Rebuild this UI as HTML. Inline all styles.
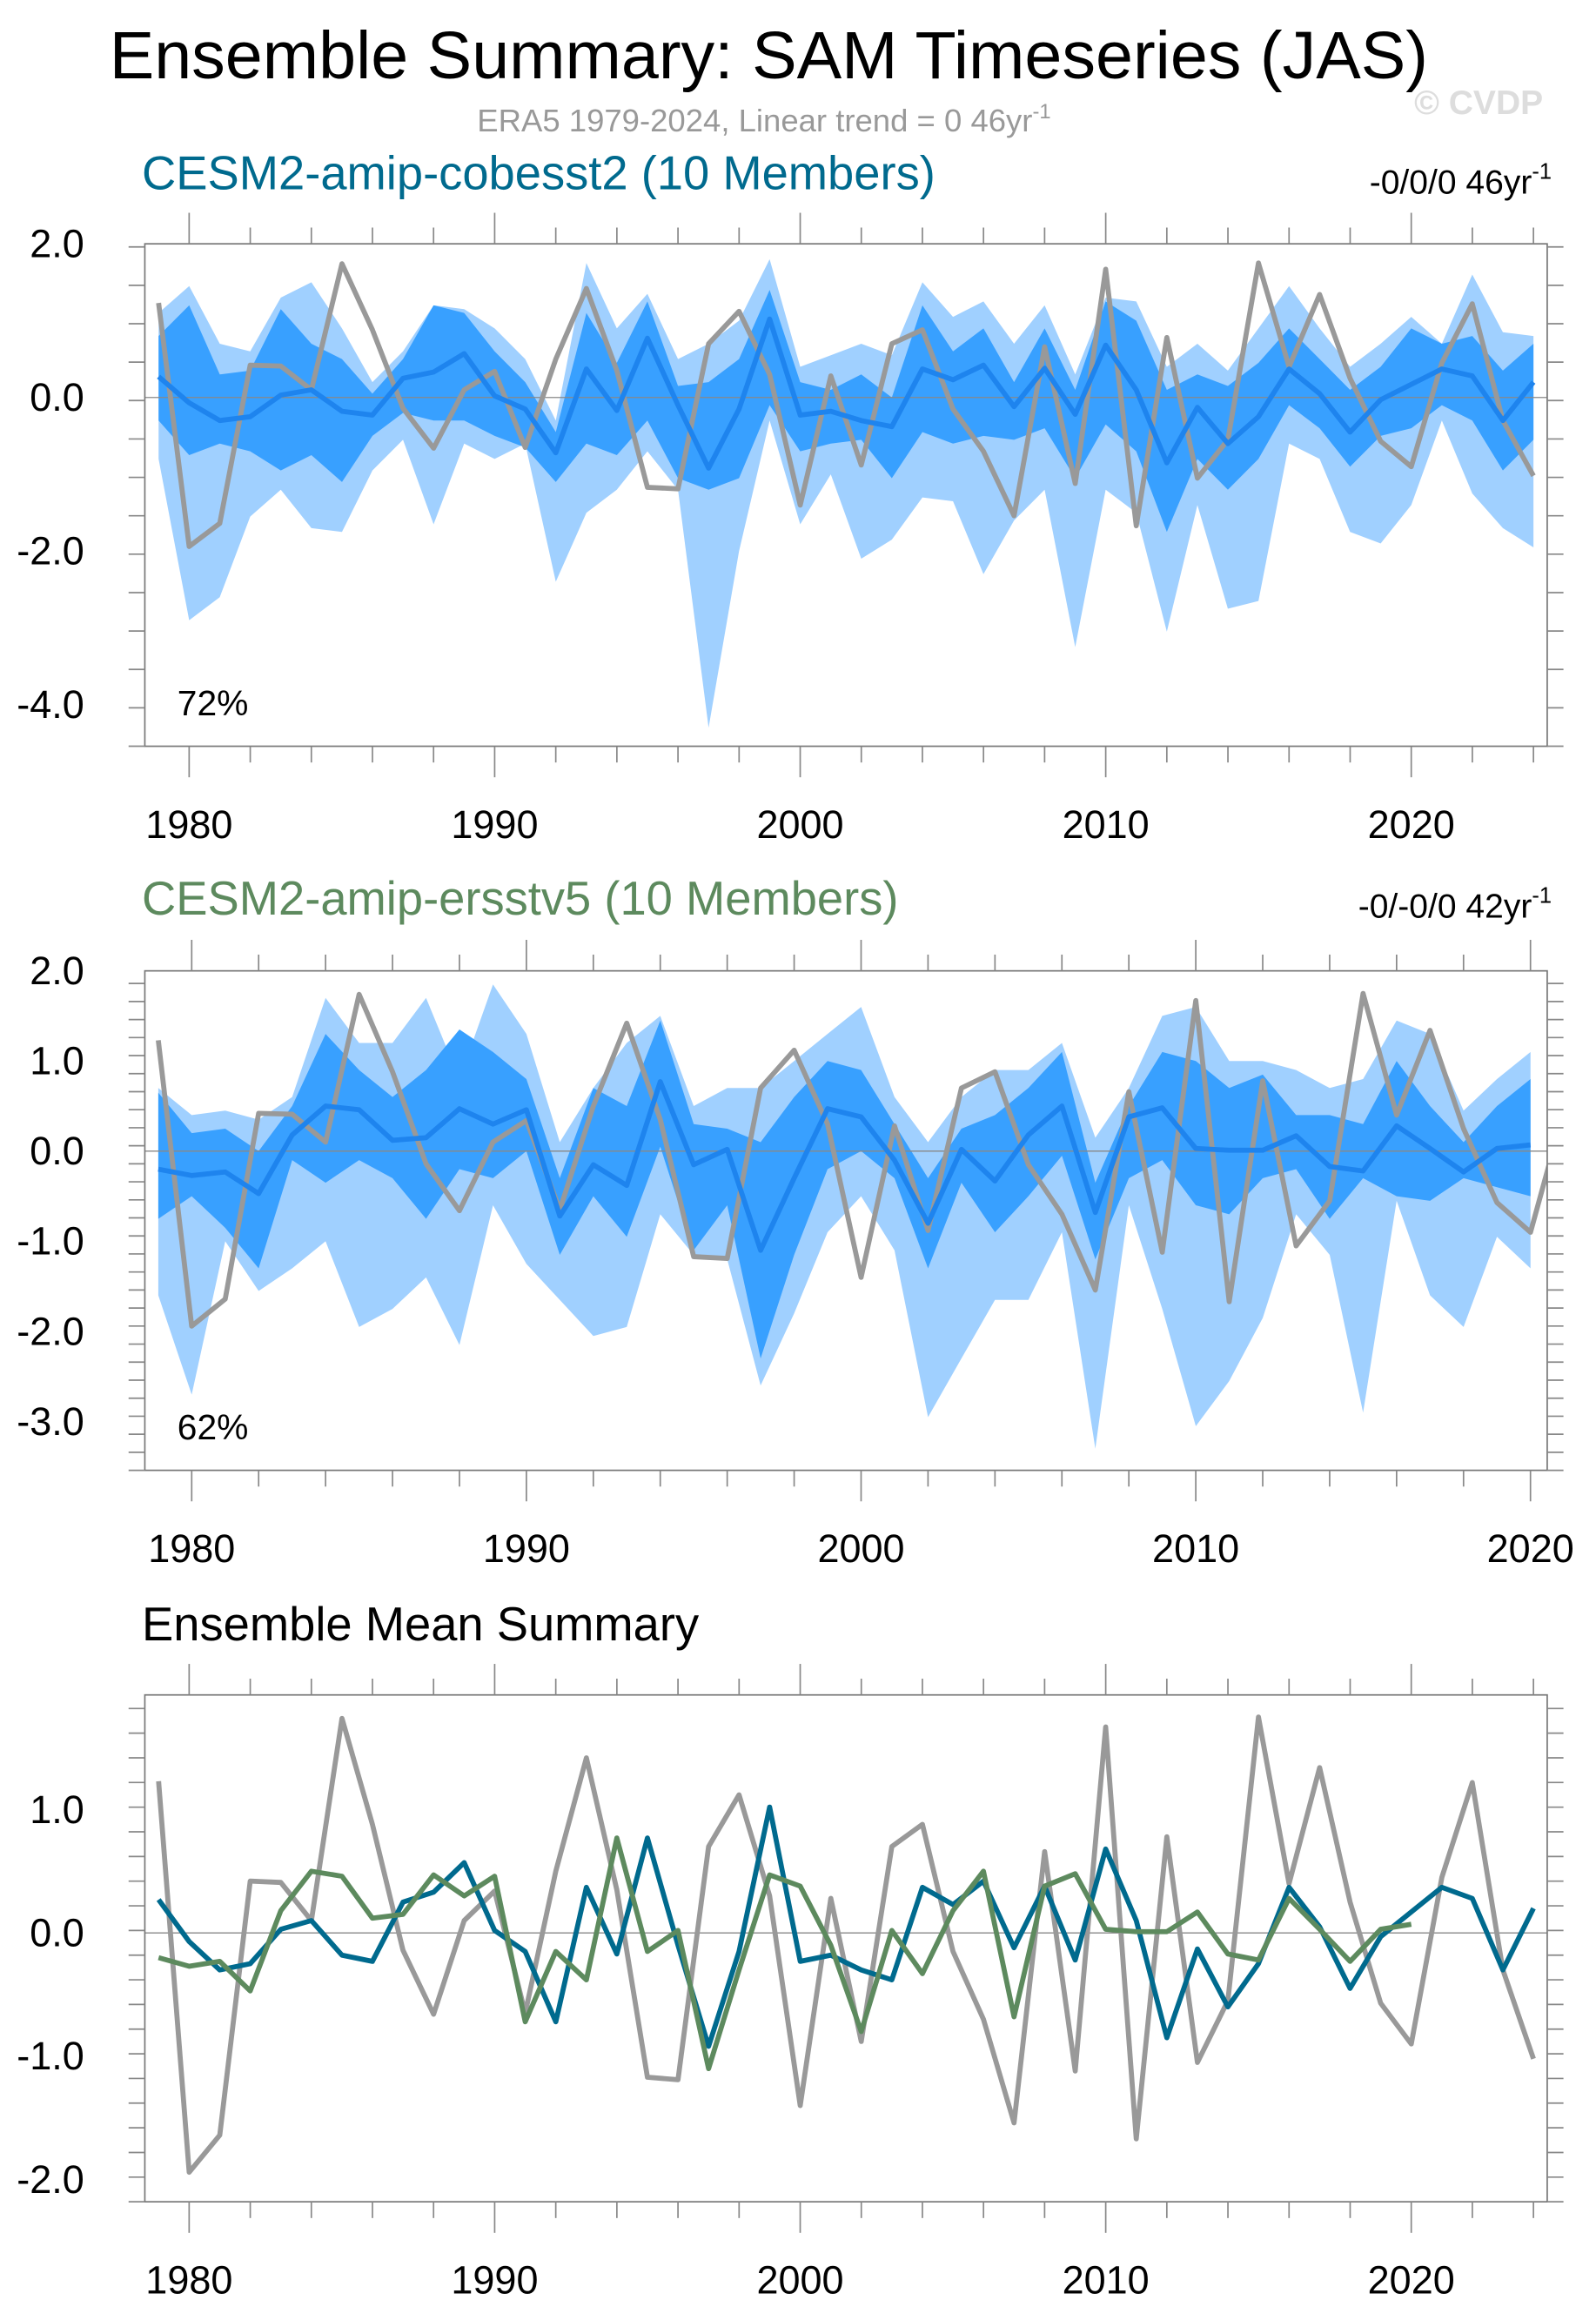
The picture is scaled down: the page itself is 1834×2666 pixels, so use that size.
<!DOCTYPE html>
<html><head><meta charset="utf-8"><title>Ensemble Summary: SAM Timeseries (JAS)</title>
<style>html,body{margin:0;padding:0;background:#fff}svg{display:block}text{font-family:"Liberation Sans",sans-serif}</style></head>
<body>
<svg id="chart" xmlns="http://www.w3.org/2000/svg" width="1834" height="2666" viewBox="0 0 1080 1570">
<rect width="1080" height="1570" fill="#fff"/>
<text x="74" y="53" font-size="45.5">Ensemble Summary: SAM Timeseries (JAS)</text>
<text x="517" y="89" font-size="21.5" fill="#999" text-anchor="middle">ERA5 1979-2024, Linear trend = 0 46yr<tspan font-size="14" dy="-9">-1</tspan></text>
<text x="957" y="77" font-size="23" font-weight="bold" fill="#ddd">© CVDP</text>
<text x="96" y="128" font-size="32" fill="#006a8e">CESM2-amip-cobesst2 (10 Members)</text>
<text x="1050" y="131" font-size="23" text-anchor="end">-0/0/0 46yr<tspan font-size="15" dy="-10">-1</tspan></text>
<text x="96" y="619" font-size="32" fill="#5d8a5e">CESM2-amip-ersstv5 (10 Members)</text>
<text x="1050" y="621" font-size="23" text-anchor="end">-0/-0/0 42yr<tspan font-size="15" dy="-10">-1</tspan></text>
<text x="96" y="1110" font-size="32">Ensemble Mean Summary</text>
<g id="p1"></g><g id="p2"></g><g id="p3"></g>
</svg>
<script>
const years = Array.from({length:46},(_,i)=>1979+i);
const obs = [1.23,-1.94,-1.64,0.42,0.41,0.1,1.74,0.88,-0.14,-0.66,0.1,0.34,-0.65,0.5,1.42,0.35,-1.17,-1.19,0.7,1.12,0.3,-1.4,0.28,-0.88,0.7,0.88,-0.15,-0.7,-1.54,0.66,-1.12,1.67,-1.67,0.78,-1.05,-0.55,1.75,0.4,1.34,0.25,-0.57,-0.9,0.45,1.22,-0.3,-1.02];
const cobeMean = [0.27,-0.07,-0.3,-0.25,0.03,0.1,-0.18,-0.23,0.25,0.33,0.57,0.02,-0.15,-0.72,0.37,-0.17,0.77,-0.1,-0.92,-0.15,1.02,-0.23,-0.18,-0.3,-0.38,0.37,0.23,0.42,-0.12,0.38,-0.22,0.68,0.1,-0.85,-0.13,-0.6,-0.25,0.37,0.05,-0.45,-0.03,0.17,0.37,0.28,-0.3,0.2];
const cobeMax = [1.1,1.45,0.7,0.6,1.3,1.5,0.9,0.2,0.6,1.2,1.15,0.9,0.5,-0.3,1.75,0.9,1.35,0.5,0.7,1.0,1.8,0.4,0.55,0.7,0.55,1.5,1.05,1.25,0.7,1.2,0.3,1.3,1.25,0.4,0.7,0.35,0.9,1.45,0.9,0.4,0.7,1.05,0.7,1.6,0.85,0.8];
const cobeMin = [-0.8,-2.9,-2.6,-1.55,-1.2,-1.7,-1.75,-0.95,-0.55,-1.65,-0.6,-0.8,-0.6,-2.4,-1.5,-1.2,-0.7,-1.2,-4.3,-2.0,-0.3,-1.65,-1.0,-2.1,-1.85,-1.3,-1.35,-2.3,-1.6,-1.2,-3.25,-1.2,-1.5,-3.05,-1.4,-2.75,-2.65,-0.6,-0.8,-1.75,-1.9,-1.4,-0.3,-1.25,-1.7,-1.95];
const cobeHi = [0.8,1.2,0.3,0.35,1.15,0.7,0.5,0.05,0.5,1.2,1.1,0.6,0.2,-0.45,1.1,0.45,1.25,0.15,0.2,0.5,1.4,0.2,0.1,0.3,0.0,1.2,0.6,0.9,0.2,0.9,0.1,1.25,1.0,0.1,0.3,0.15,0.45,0.9,0.5,0.1,0.4,0.9,0.7,0.8,0.35,0.7];
const cobeLo = [-0.3,-0.75,-0.6,-0.7,-0.95,-0.75,-1.1,-0.5,-0.2,-0.3,-0.3,-0.5,-0.65,-1.1,-0.6,-0.75,-0.3,-1.05,-1.2,-1.05,-0.1,-0.7,-0.6,-0.55,-1.05,-0.45,-0.6,-0.5,-0.55,-0.4,-1.05,-0.35,-0.7,-1.75,-0.8,-1.2,-0.8,-0.1,-0.4,-0.9,-0.5,-0.4,-0.1,-0.3,-0.95,-0.55];
const ersstYears = Array.from({length:42},(_,i)=>1979+i);
const ersstMean = [-0.2,-0.27,-0.23,-0.47,0.18,0.5,0.46,0.12,0.15,0.47,0.3,0.46,-0.72,-0.15,-0.38,0.77,-0.15,0.02,-1.1,-0.3,0.47,0.38,-0.1,-0.8,0.02,-0.33,0.18,0.5,-0.68,0.38,0.48,0.03,0.01,0.01,0.17,-0.17,-0.22,0.28,0.03,-0.23,0.03,0.07];
const ersstMax = [0.7,0.4,0.45,0.35,0.6,1.7,1.2,1.2,1.7,0.8,1.85,1.3,0.1,0.7,1.2,1.5,0.5,0.7,0.7,1.0,1.3,1.6,0.6,0.1,0.6,0.9,0.9,1.2,0.15,0.7,1.5,1.6,1.0,1.0,0.9,0.7,0.8,1.45,1.3,0.45,0.8,1.1];
const ersstMin = [-1.6,-2.7,-1.0,-1.55,-1.3,-1.0,-1.95,-1.75,-1.4,-2.15,-0.6,-1.25,-1.65,-2.05,-1.95,-0.7,-1.15,-1.2,-2.6,-1.8,-0.9,-0.5,-1.1,-2.95,-2.3,-1.65,-1.65,-0.9,-3.3,-0.6,-1.75,-3.05,-2.55,-1.85,-0.7,-1.15,-2.9,-0.55,-1.6,-1.95,-0.95,-1.3];
const ersstHi = [0.65,0.2,0.25,0.0,0.5,1.3,0.9,0.6,0.9,1.35,1.1,0.8,-0.3,0.7,0.5,1.45,0.3,0.25,0.1,0.6,1.0,0.9,0.3,-0.3,0.25,0.4,0.7,1.1,-0.35,0.5,1.1,1.0,0.7,0.85,0.4,0.4,0.3,1.0,0.5,0.1,0.5,0.8];
const ersstLo = [-0.75,-0.5,-0.85,-1.3,-0.1,-0.35,-0.1,-0.3,-0.75,-0.2,-0.3,0.0,-1.15,-0.5,-0.95,0.05,-1.1,-0.6,-2.3,-1.15,-0.2,0.0,-0.3,-1.3,-0.35,-0.9,-0.5,-0.05,-1.2,-0.3,-0.1,-0.6,-0.7,-0.3,-0.2,-0.75,-0.3,-0.5,-0.55,-0.3,-0.4,-0.5];
const p1Ticks = [2,0,-2,-4];
const p2Ticks = [2,1,0,-1,-2,-3];
const p3Ticks = [1,0,-1,-2];
const xTickYears = [1980,1990,2000,2010,2020];

const NS="http://www.w3.org/2000/svg";
function mk(parent,tag,attrs){const e=document.createElementNS(NS,tag);for(const k in attrs)e.setAttribute(k,attrs[k]);parent.appendChild(e);return e;}

function panel(gid,cfg){
  const g=document.getElementById(gid);
  const L=98,R=1047,T=cfg.top,B=cfg.bottom;
  const xs=y=>L+(y-cfg.x0)/(cfg.x1-cfg.x0)*(R-L);
  const ys=v=>T+(cfg.y1-v)/(cfg.y1-cfg.y0)*(B-T);
  const cid='clip-'+gid;
  const cp=mk(g,'clipPath',{id:cid});mk(cp,'rect',{x:L,y:T,width:R-L,height:B-T});
  const plot=mk(g,'g',{'clip-path':'url(#'+cid+')'});
  function band(yrs,lo,hi,color,name){
    let d='M'+yrs.map((y,i)=>xs(y).toFixed(1)+','+ys(hi[i]).toFixed(1)).join('L');
    for(let i=yrs.length-1;i>=0;i--)d+='L'+xs(yrs[i]).toFixed(1)+','+ys(lo[i]).toFixed(1);
    const p=mk(plot,'path',{d:d+'Z',fill:color});
    
    
  }
  function line(yrs,vals,color,w,name){
    const p=mk(plot,'polyline',{points:yrs.map((y,i)=>xs(y).toFixed(1)+','+ys(vals[i]).toFixed(1)).join(' '),fill:'none',stroke:color,'stroke-width':w,'stroke-linejoin':'round'});
    
    
  }
  if(cfg.bands){
    band(cfg.years,cfg.min,cfg.max,'#a0d0ff',gid+'-range-band');
    band(cfg.years,cfg.lo,cfg.hi,'#38a0ff',gid+'-iqr-band');
  }
  const zl=mk(plot,'line',{x1:L,x2:R,y1:ys(0),y2:ys(0),stroke:'#888','stroke-width':0.8});
  
  
  cfg.lines.forEach(l=>line(l.years,l.vals,l.color,l.w,l.name));
  mk(g,'rect',{x:L,y:T,width:R-L,height:B-T,fill:'none',stroke:'#777','stroke-width':1});
  for(let v=cfg.y0;v<=cfg.y1+1e-6;v+=cfg.minor){
    const v2=Math.round(v*100)/100;if(v2<cfg.y0-1e-6||v2>cfg.y1+1e-6)continue;
    const major=cfg.ticks.some(t=>Math.abs(t-v2)<1e-6);
    const len=major?21:11;
    mk(g,'line',{x1:L-len,x2:L,y1:ys(v2),y2:ys(v2),stroke:'#888','stroke-width':1});
    mk(g,'line',{x1:R,x2:R+len,y1:ys(v2),y2:ys(v2),stroke:'#888','stroke-width':1});
  }
  cfg.ticks.forEach(t=>{
    const tx=mk(g,'text',{x:57,y:ys(t)+9,'font-size':26.5,'text-anchor':'end'});
    tx.textContent=t.toFixed(1);
    
    
  });
  for(let y=1980;y<=cfg.x1;y+=2){
    const major=y%10===0;const len=major?21:11;
    mk(g,'line',{x1:xs(y),x2:xs(y),y1:B,y2:B+len,stroke:'#888','stroke-width':1});
    mk(g,'line',{x1:xs(y),x2:xs(y),y1:T-len,y2:T,stroke:'#888','stroke-width':1});
  }
  xTickYears.forEach(y=>{
    if(y>cfg.x1)return;
    const tx=mk(g,'text',{x:xs(y),y:B+62,'font-size':26.5,'text-anchor':'middle'});
    tx.textContent=y;
    
    
  });
  if(cfg.pct){
    const tx=mk(g,'text',{x:120,y:B-21,'font-size':24});
    tx.textContent=cfg.pct;
    
    
  }
}
panel('p1',{top:165,bottom:505,x0:1978.55,x1:2024.45,y0:-4.54,y1:2,minor:0.5,ticks:p1Ticks,bands:true,years:years,min:cobeMin,max:cobeMax,lo:cobeLo,hi:cobeHi,pct:'72%',
  lines:[{years:years,vals:obs,color:'#999',w:3.4,name:'p1-obs-line'},{years:years,vals:cobeMean,color:'#1e84ee',w:3.4,name:'p1-ensemble-mean-line'}]});
panel('p2',{top:657,bottom:995,x0:1978.6,x1:2020.5,y0:-3.54,y1:2,minor:0.2,ticks:p2Ticks,bands:true,years:ersstYears,min:ersstMin,max:ersstMax,lo:ersstLo,hi:ersstHi,pct:'62%',
  lines:[{years:years,vals:obs,color:'#999',w:3.4,name:'p2-obs-line'},{years:ersstYears,vals:ersstMean,color:'#1e84ee',w:3.4,name:'p2-ensemble-mean-line'}]});
panel('p3',{top:1147,bottom:1490,x0:1978.55,x1:2024.45,y0:-2.18,y1:1.93,minor:0.2,ticks:p3Ticks,bands:false,
  lines:[{years:years,vals:obs,color:'#999',w:3.4,name:'p3-obs-line'},{years:years,vals:cobeMean,color:'#006a8e',w:3.4,name:'p3-cobesst2-mean-line'},{years:ersstYears,vals:ersstMean,color:'#5d8a5e',w:3.4,name:'p3-ersstv5-mean-line'}]});
</script>
</body></html>
